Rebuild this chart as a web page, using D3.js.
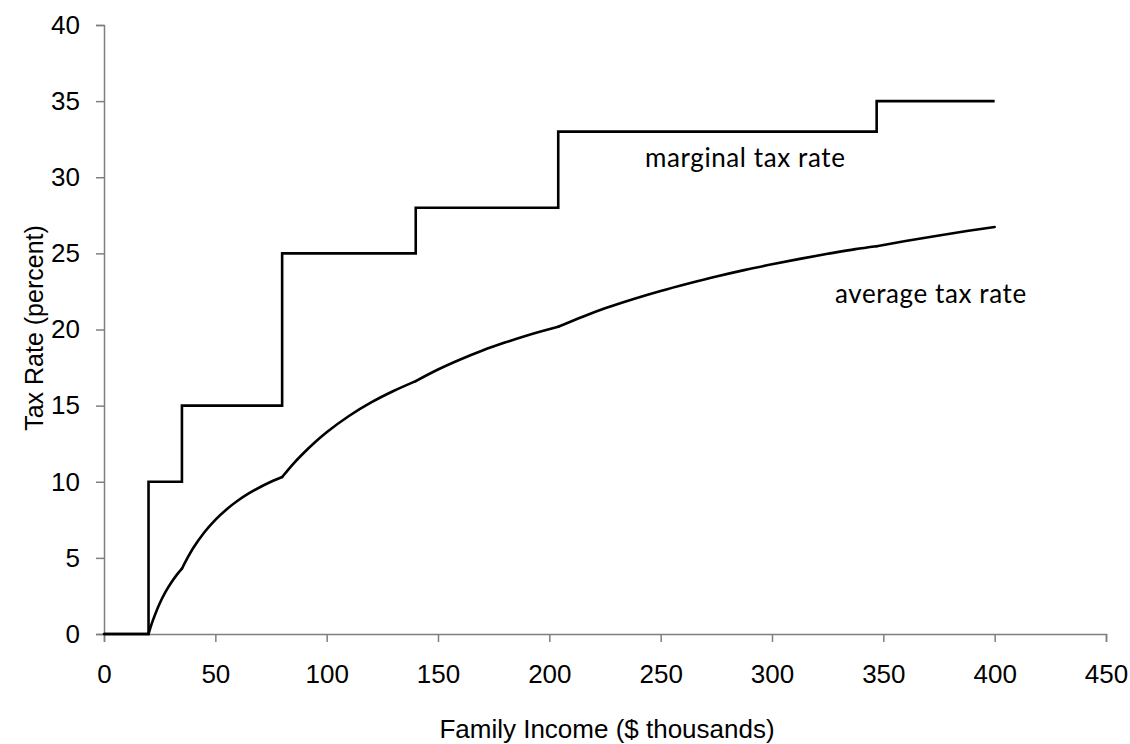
<!DOCTYPE html>
<html>
<head>
<meta charset="utf-8">
<script src="https://cdn.jsdelivr.net/npm/d3@7"></script>
<style>
  body { margin: 0; background: #fff; }
  svg { display: block; }
</style>
</head>
<body>
<div id="chart"></div>
<script>
// Data
const xTicks = [0, 50, 100, 150, 200, 250, 300, 350, 400, 450];
const yTicks = [0, 5, 10, 15, 20, 25, 30, 35, 40];

// marginal rate: bracket start (income, $ thousands) and rate (percent)
const marginalIncome = [0, 20, 35, 80, 140, 204, 347, 400];
const marginalRate   = [0, 10, 15, 25, 28, 33, 35, 35];

// average rate curve
const averageIncome = [0, 20, 21, 22, 23, 25, 27.5, 30, 32.5, 35, 37.5, 40, 45, 50, 55, 60, 65, 70, 75, 80,
    85, 90, 95, 100, 110, 120, 130, 140, 150, 160, 170, 180, 190, 204, 215, 225, 237.5, 250, 262.5,
    275, 287.5, 300, 312.5, 325, 337.5, 347, 360, 375, 387.5, 400];
const averageRate   = [0, 0, 0.48, 0.91, 1.30, 2.00, 2.73, 3.33, 3.85, 4.29, 5.00, 5.63, 6.67, 7.50, 8.18, 8.75, 9.23, 9.64, 10.00, 10.31,
    11.18, 11.94, 12.63, 13.25, 14.32, 15.21, 15.96, 16.61, 17.37, 18.03, 18.62, 19.14, 19.61, 20.18, 20.84, 21.39, 21.99, 22.53, 23.02,
    23.48, 23.90, 24.28, 24.64, 24.97, 25.28, 25.47, 25.81, 26.18, 26.47, 26.73];

const width = 1130, height = 744;
const margin = { top: 25, right: 24, bottom: 110, left: 104 };
const axisFont = "Liberation Sans, Arial, sans-serif";
const noteFont = "Lato, 'Open Sans', sans-serif";

const svg = d3.select("#chart")
    .append("svg")
    .attr("width", width)
    .attr("height", height);

const xScale = d3.scaleLinear()
    .domain([0, 450])
    .range([margin.left, width - margin.right]);

const yScale = d3.scaleLinear()
    .domain([0, 40])
    .range([height - margin.bottom, margin.top]);

// X axis
svg.append("g")
    .attr("transform", `translate(0, ${yScale(0)})`)
    .call(d3.axisBottom(xScale).tickValues(xTicks).tickSize(8).tickPadding(23).tickFormat(d3.format("d")))
    .call(g => g.select(".domain").attr("stroke", "#7f7f7f").attr("stroke-width", 1.5))
    .call(g => g.selectAll(".tick line").attr("stroke", "#7f7f7f").attr("stroke-width", 1.5))
    .call(g => g.selectAll(".tick text")
        .attr("font-family", axisFont)
        .attr("font-size", 26)
        .attr("fill", "#000"));

// Y axis
svg.append("g")
    .attr("transform", `translate(${xScale(0)}, 0)`)
    .call(d3.axisLeft(yScale).tickValues(yTicks).tickSize(8).tickPadding(16))
    .call(g => g.select(".domain").attr("stroke", "#7f7f7f").attr("stroke-width", 1.5))
    .call(g => g.selectAll(".tick line").attr("stroke", "#7f7f7f").attr("stroke-width", 1.5))
    .call(g => g.selectAll(".tick text")
        .attr("font-family", axisFont)
        .attr("font-size", 26)
        .attr("fill", "#000"));

// Axis titles
svg.append("text")
    .attr("x", 607)
    .attr("y", 738)
    .attr("text-anchor", "middle")
    .attr("font-family", axisFont)
    .attr("font-size", 26)
    .text("Family Income ($ thousands)");

svg.append("text")
    .attr("transform", "translate(43, 328) rotate(-90)")
    .attr("text-anchor", "middle")
    .attr("font-family", axisFont)
    .attr("font-size", 25)
    .text("Tax Rate (percent)");

// Lines
const marginalData = marginalIncome.map((x, i) => ({ x: x, y: marginalRate[i] }));
const averageData = averageIncome.map((x, i) => ({ x: x, y: averageRate[i] }));

const stepLine = d3.line()
    .x(d => xScale(d.x))
    .y(d => yScale(d.y))
    .curve(d3.curveStepAfter);

const avgLine = d3.line()
    .x(d => xScale(d.x))
    .y(d => yScale(d.y))
    .curve(d3.curveMonotoneX);

svg.append("path")
    .datum(marginalData)
    .attr("d", stepLine)
    .attr("fill", "none")
    .attr("stroke", "#000")
    .attr("stroke-width", 2.6);

// average curve is smooth within each bracket, with a kink at each bracket edge
const segments = [];
for (let i = 0; i < marginalIncome.length - 1; i++) {
    const lo = marginalIncome[i], hi = marginalIncome[i + 1];
    segments.push(averageData.filter(d => d.x >= lo && d.x <= hi));
}

svg.selectAll(".avg")
    .data(segments)
    .enter()
    .append("path")
    .attr("class", "avg")
    .attr("d", avgLine)
    .attr("fill", "none")
    .attr("stroke", "#000")
    .attr("stroke-width", 2.6)
    .attr("stroke-linecap", "round");

// Labels
svg.append("text")
    .attr("x", 645)
    .attr("y", 167)
    .attr("font-family", noteFont)
    .attr("font-size", 26)
    .attr("letter-spacing", 0.6)
    .text("marginal tax rate");

svg.append("text")
    .attr("x", 835)
    .attr("y", 303)
    .attr("font-family", noteFont)
    .attr("font-size", 26)
    .attr("letter-spacing", 0.6)
    .text("average tax rate");
</script>
</body>
</html>
